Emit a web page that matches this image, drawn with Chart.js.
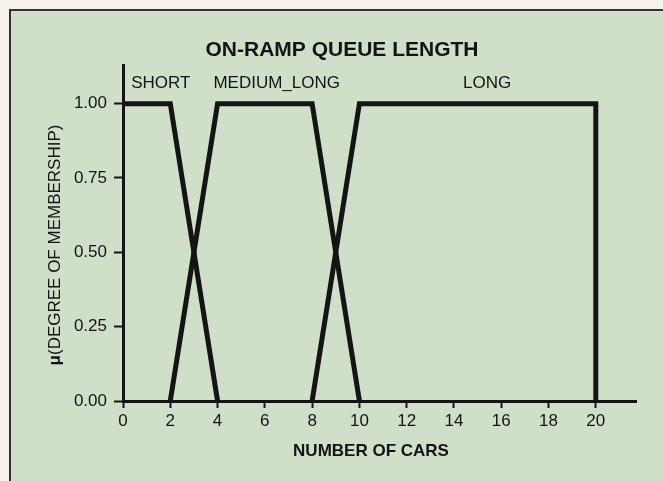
<!DOCTYPE html>
<html>
<head>
<meta charset="utf-8">
<script src="https://cdn.jsdelivr.net/npm/chart.js@4.4.1/dist/chart.umd.min.js"></script>
<style>
  html, body { margin: 0; padding: 0; background: #f6f2eb; }
  canvas { display: block; }
</style>
</head>
<body>
<canvas id="queueChart" width="663" height="481"></canvas>
<script>
// membership functions for on-ramp queue length (number of cars -> degree)
const shortX = [0, 2, 4];
const shortY = [1, 1, 0];
const mediumLongX = [2, 4, 8, 10];
const mediumLongY = [0, 1, 1, 0];
const longX = [8, 10, 20, 20];
const longY = [0, 1, 1, 0];

const xTicks = [0, 2, 4, 6, 8, 10, 12, 14, 16, 18, 20];
const yTicks = [0, 0.25, 0.5, 0.75, 1];

const setNames = ['SHORT', 'MEDIUM_LONG', 'LONG'];
const setNameAt = [1.6, 6.5, 15.4];   // where each set name sits on the x axis

const FONT = "'Liberation Sans', Arial, Helvetica, sans-serif";
const INK = '#141414';

function toPoints(xs, ys) {
    return xs.map((x, i) => ({ x: x, y: ys[i] }));
}

function lineSet(label, xs, ys) {
    return {
        label: label,
        data: toPoints(xs, ys),
        borderColor: INK,
        borderWidth: 5,
        borderJoinStyle: 'miter',
        borderCapStyle: 'butt',
        pointRadius: 0,
        tension: 0,
        fill: false
    };
}

const paper = {
    id: 'paper',
    beforeDraw(chart) {
        const ctx = chart.ctx;
        ctx.save();
        ctx.fillStyle = '#f6f2eb';
        ctx.fillRect(0, 0, chart.width, chart.height);
        ctx.fillStyle = '#cfdfc8';
        ctx.fillRect(10, 10, chart.width, chart.height);
        ctx.strokeStyle = '#333';
        ctx.lineWidth = 2;
        ctx.strokeRect(10, 10, chart.width + 10, chart.height + 10);
        ctx.restore();
    },
    afterDraw(chart) {
        const ctx = chart.ctx;
        const xs = chart.scales.x;
        const ys = chart.scales.y;
        ctx.save();
        ctx.fillStyle = INK;
        ctx.textBaseline = 'middle';
        ctx.textAlign = 'center';

        ctx.font = 'bold 21px ' + FONT;
        ctx.fillText('ON-RAMP QUEUE LENGTH', 342, 50);

        ctx.font = '17px ' + FONT;
        setNames.forEach((name, i) => {
            ctx.fillText(name, xs.getPixelForValue(setNameAt[i]), ys.getPixelForValue(1.07));
        });

        ctx.font = 'bold 17px ' + FONT;
        ctx.fillText('NUMBER OF CARS', 371, 451);

        // rotated y title, the mu drawn bold
        ctx.translate(55, 245);
        ctx.rotate(-Math.PI / 2);
        ctx.textAlign = 'left';
        ctx.font = 'bold 17px ' + FONT;
        const mu = 'μ';
        const muW = ctx.measureText(mu).width;
        ctx.font = '17px ' + FONT;
        const rest = '(DEGREE OF MEMBERSHIP)';
        const restW = ctx.measureText(rest).width;
        const startX = -(muW + restW) / 2;
        ctx.font = 'bold 17px ' + FONT;
        ctx.fillText(mu, startX, 0);
        ctx.font = '17px ' + FONT;
        ctx.fillText(rest, startX + muW, 0);
        ctx.restore();
    }
};

new Chart(document.getElementById('queueChart'), {
    type: 'line',
    data: {
        datasets: [
            lineSet(setNames[0], shortX, shortY),
            lineSet(setNames[1], mediumLongX, mediumLongY),
            lineSet(setNames[2], longX, longY)
        ]
    },
    options: {
        responsive: false,
        animation: false,
        layout: { padding: { top: 65, right: 27, left: 0, bottom: 0 } },
        plugins: {
            legend: { display: false },
            tooltip: { enabled: false },
            title: { display: false }
        },
        scales: {
            x: {
                type: 'linear',
                min: 0,
                max: 21.7,
                afterBuildTicks: s => { s.ticks = xTicks.map(v => ({ value: v })); },
                afterFit: s => { s.height = 80; },
                ticks: {
                    font: { family: FONT, size: 17 },
                    color: INK,
                    padding: 3,
                    maxRotation: 0,
                    autoSkip: false
                },
                grid: {
                    drawOnChartArea: false,
                    tickLength: 7,
                    tickWidth: 2,
                    tickColor: INK
                },
                border: { color: INK, width: 3 }
            },
            y: {
                min: 0,
                max: 1.13,
                afterBuildTicks: s => { s.ticks = yTicks.map(v => ({ value: v })); },
                afterFit: s => { s.width = 123; },
                ticks: {
                    font: { family: FONT, size: 17 },
                    color: INK,
                    padding: 7,
                    callback: v => v.toFixed(2)
                },
                grid: {
                    drawOnChartArea: false,
                    tickLength: 9,
                    tickWidth: 2,
                    tickColor: INK
                },
                border: { color: INK, width: 3 }
            }
        }
    },
    plugins: [paper]
});
</script>
</body>
</html>
